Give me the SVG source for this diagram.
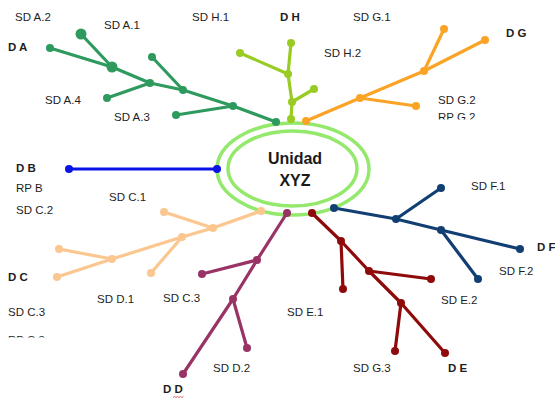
<svg xmlns="http://www.w3.org/2000/svg" width="555" height="399" viewBox="0 0 555 399">
<defs>
<style>
.t{font-family:"Liberation Sans",Arial,sans-serif;font-size:11.5px;fill:#1e1e1e}
.b{font-weight:bold}
.c{font-family:"Liberation Sans",Arial,sans-serif;font-size:16px;font-weight:bold;fill:#1a1a1a;text-anchor:middle}
line,polyline{stroke-width:3.2;fill:none;stroke-linecap:round;stroke-linejoin:round}
.A{stroke:#2e9a5e}.Af{fill:#2e9a5e}
.H{stroke:#99cc22}.Hf{fill:#99cc22}
.G{stroke:#fba325}.Gf{fill:#fba325}
.B{stroke:#0a14e6}.Bf{fill:#0a14e6}
.C{stroke:#fcc68f}.Cf{fill:#fcc68f}
.D{stroke:#993366}.Df{fill:#993366}
.E{stroke:#8f0a0a}.Ef{fill:#8f0a0a}
.F{stroke:#123f73}.Ff{fill:#123f73}
</style>
<clipPath id="clipG"><rect x="430" y="90" width="80" height="29.5"/></clipPath>
<clipPath id="clipC"><rect x="0" y="320" width="80" height="17.5"/></clipPath>
</defs>
<rect width="555" height="399" fill="#fff"/>

<g id="center">
<ellipse cx="293" cy="169" rx="76" ry="46" fill="none" stroke="#94e86c" stroke-width="3.5"/>
<ellipse cx="292.5" cy="168.5" rx="64.5" ry="37.5" fill="none" stroke="#94e86c" stroke-width="3.5"/>
<text class="c" x="295" y="164">Unidad</text>
<text class="c" x="295" y="186">XYZ</text>
</g>

<g id="connectors">
<polyline class="A" points="50,48 112,67 150,83 183,90 233,106 276,122"/>
<line class="A" x1="81" y1="34" x2="112" y2="67"/>
<line class="A" x1="152" y1="57" x2="183" y2="90"/>
<line class="A" x1="107" y1="98" x2="150" y2="83"/>
<line class="A" x1="176" y1="115" x2="233" y2="106"/>
<polyline class="H" points="291,43 288,74 292,102 291,119"/>
<line class="H" x1="240" y1="53" x2="288" y2="74"/>
<line class="H" x1="314" y1="89" x2="292" y2="102"/>
<polyline class="G" points="306,121 360,98 424,71 485,40"/>
<line class="G" x1="360" y1="98" x2="416" y2="106"/>
<line class="G" x1="424" y1="71" x2="444" y2="29"/>
<line class="B" x1="69" y1="169" x2="217" y2="169"/>
<polyline class="C" points="261,211 213,228 182,237 112,259 57,277"/>
<line class="C" x1="164" y1="212" x2="213" y2="228"/>
<line class="C" x1="59" y1="249" x2="112" y2="259"/>
<line class="C" x1="182" y1="237" x2="151" y2="273"/>
<polyline class="D" points="287,213 257,260 233,299 183,374"/>
<line class="D" x1="257" y1="260" x2="202" y2="274"/>
<line class="D" x1="233" y1="299" x2="247" y2="348"/>
<polyline class="E" points="312,213 341,241 369,271 401,303 445,353"/>
<line class="E" x1="341" y1="241" x2="343" y2="289"/>
<line class="E" x1="369" y1="271" x2="431" y2="279"/>
<line class="E" x1="401" y1="303" x2="395" y2="351"/>
<polyline class="F" points="334,208 396,219 441,230 520,249"/>
<line class="F" x1="396" y1="219" x2="441" y2="188"/>
<line class="F" x1="441" y1="230" x2="478" y2="279"/>
</g>

<g id="node-DA" class="Af">
<circle cx="50" cy="48" r="4"/><circle cx="81" cy="34" r="5.5"/><circle cx="112" cy="67" r="5.5"/>
<circle cx="152" cy="57" r="4"/><circle cx="150" cy="83" r="4"/><circle cx="107" cy="98" r="4"/>
<circle cx="183" cy="90" r="4"/><circle cx="233" cy="106" r="4"/><circle cx="176" cy="115" r="4"/>
<circle cx="276" cy="122" r="4"/>
<text class="t b" x="8" y="51">D A</text>
<text class="t" x="15" y="21">SD A.2</text>
<text class="t" x="104" y="29">SD A.1</text>
<text class="t" x="45" y="104">SD A.4</text>
<text class="t" x="114" y="121">SD A.3</text>
</g>

<g id="node-DH" class="Hf">
<circle cx="291" cy="43" r="4"/><circle cx="240" cy="53" r="4"/><circle cx="288" cy="74" r="4"/>
<circle cx="314" cy="89" r="4"/><circle cx="292" cy="102" r="4"/><circle cx="291" cy="119" r="4"/>
<text class="t b" x="280" y="21">D H</text>
<text class="t" x="192" y="21">SD H.1</text>
<text class="t" x="324" y="57">SD H.2</text>
</g>

<g id="node-DG" class="Gf">
<circle cx="306" cy="121" r="4"/><circle cx="360" cy="98" r="4"/><circle cx="416" cy="106" r="4"/>
<circle cx="424" cy="71" r="4"/><circle cx="444" cy="29" r="4"/><circle cx="485" cy="40" r="4"/>
<text class="t b" x="506" y="37">D G</text>
<text class="t" x="353" y="21">SD G.1</text>
<text class="t" x="438" y="104">SD G.2</text>
<text class="t" x="438" y="121" clip-path="url(#clipG)">RP G.2</text>
</g>

<g id="node-DB" class="Bf">
<circle cx="69" cy="169" r="4"/><circle cx="217" cy="169" r="4"/>
<text class="t b" x="16" y="172">D B</text>
<text class="t" x="16" y="192">RP B</text>
</g>

<g id="node-DC" class="Cf">
<circle cx="261" cy="211" r="4"/><circle cx="213" cy="228" r="4"/><circle cx="182" cy="237" r="4"/>
<circle cx="164" cy="212" r="4"/><circle cx="112" cy="259" r="4"/><circle cx="59" cy="249" r="4"/>
<circle cx="57" cy="277" r="4"/><circle cx="151" cy="273" r="4"/>
<text class="t b" x="8" y="281">D C</text>
<text class="t" x="16" y="214">SD C.2</text>
<text class="t" x="109" y="201">SD C.1</text>
<text class="t" x="8" y="316">SD C.3</text>
<text class="t" x="8" y="344" clip-path="url(#clipC)">RP C.3</text>
</g>

<g id="node-DD" class="Df">
<circle cx="287" cy="213" r="4"/><circle cx="257" cy="260" r="4"/><circle cx="202" cy="274" r="4"/>
<circle cx="233" cy="299" r="4"/><circle cx="247" cy="348" r="4"/><circle cx="183" cy="374" r="4"/>
<text class="t b" x="163" y="393">D D</text>
<path d="M173,397.5 l1.5,-1 1.5,1 1.5,-1 1.5,1 1.5,-1 1.5,1 1.5,-1" fill="none" stroke="#e04040" stroke-width="0.8"/>
<text class="t" x="97" y="303">SD D.1</text>
<text class="t" x="163" y="302">SD C.3</text>
<text class="t" x="213" y="372">SD D.2</text>
</g>

<g id="node-DE" class="Ef">
<circle cx="312" cy="213" r="4"/><circle cx="341" cy="241" r="4"/><circle cx="343" cy="289" r="4"/>
<circle cx="369" cy="271" r="4"/><circle cx="431" cy="279" r="4"/><circle cx="401" cy="303" r="4"/>
<circle cx="395" cy="351" r="4"/><circle cx="445" cy="353" r="4"/>
<text class="t b" x="448" y="372">D E</text>
<text class="t" x="287" y="316">SD E.1</text>
<text class="t" x="441" y="304">SD E.2</text>
<text class="t" x="353" y="372">SD G.3</text>
</g>

<g id="node-DF" class="Ff">
<circle cx="334" cy="208" r="4"/><circle cx="396" cy="219" r="4"/><circle cx="441" cy="188" r="4"/>
<circle cx="441" cy="230" r="4"/><circle cx="520" cy="249" r="4"/><circle cx="478" cy="279" r="4"/>
<text class="t b" x="537" y="251">D F</text>
<text class="t" x="471" y="190">SD F.1</text>
<text class="t" x="499" y="275">SD F.2</text>
</g>
</svg>
